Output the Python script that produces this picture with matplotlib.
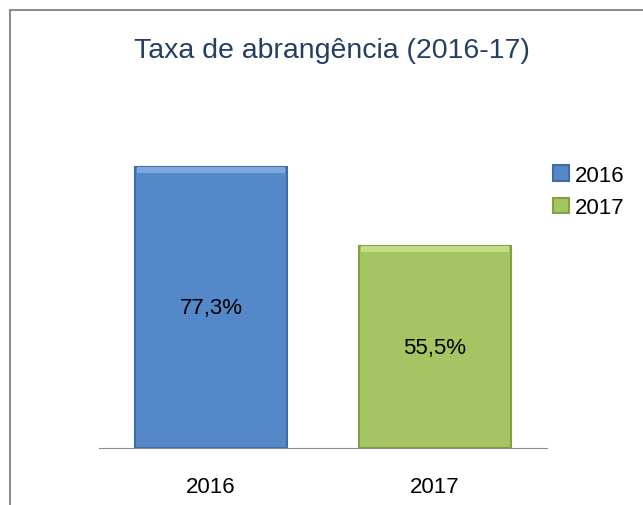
import matplotlib.pyplot as plt
from matplotlib.patches import Rectangle

anos = ['2016', '2017']
taxas = [77.3, 55.5]
rotulos = ['77,3%', '55,5%']
cores = ['#5588C8', '#A5C462']
bordas = ['#3F6CA6', '#84A044']
topos = ['#7FA8DC', '#C2DB85']

plt.rcParams['font.family'] = ['Liberation Sans', 'DejaVu Sans']

fig = plt.figure(figsize=(6.43, 5.06), dpi=100)
W, H = 643, 506

# moldura do gráfico
fig.patches.append(Rectangle((10 / W, -0.1), 1.1, (506 - 11) / H + 0.1,
                             transform=fig.transFigure, fill=False,
                             edgecolor='#8C8C8C', linewidth=1.5))

ax = fig.add_axes([99 / W, (506 - 449) / H, 448 / W, (449 - 122) / H])
x = range(len(anos))
barras = ax.bar(x, taxas, width=0.68, color=cores, edgecolor=bordas,
                linewidth=1.5, label=anos)
# faixa clara no topo (efeito de relevo)
ax.bar(x, [1.6] * len(taxas), bottom=[v - 1.6 for v in taxas], width=0.66,
       color=topos, linewidth=0)
for xi, v, r in zip(x, taxas, rotulos):
    ax.text(xi, v / 2, r, ha='center', va='center', fontsize=16, color='black')

ax.set_xlim(-0.5, 1.5)
ax.set_ylim(0, 90)
ax.set_xticks(list(x))
ax.set_xticklabels(anos, fontsize=16)
ax.tick_params(axis='x', length=0, pad=20)
ax.set_yticks([])
for s in ['top', 'right', 'left']:
    ax.spines[s].set_visible(False)
ax.spines['bottom'].set_color('#8C8C8C')

fig.text(332 / W, 1 - 51 / H, 'Taxa de abrangência (2016-17)', ha='center',
         va='center', fontsize=20.5, color='#243F60')

fig.legend(handles=list(barras), labels=anos, loc='upper left',
           bbox_to_anchor=(533 / W, 1 - 146 / H), frameon=False, fontsize=16,
           handlelength=0.7, handleheight=0.7, handletextpad=0.3,
           labelspacing=0.5)

fig.savefig('out.png', dpi=100)
